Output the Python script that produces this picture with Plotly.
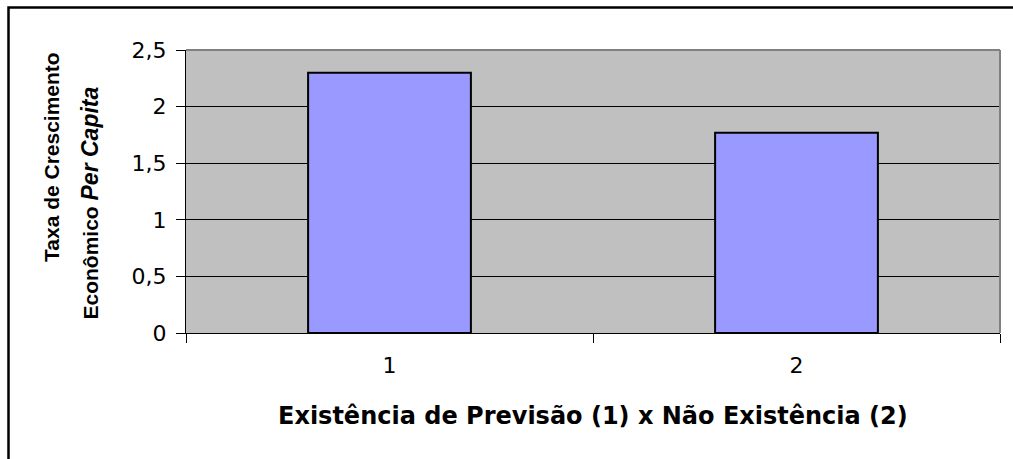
import plotly.graph_objects as go

categories = ["1", "2"]
values = [2.30, 1.77]
y_tickvals = [0, 0.5, 1, 1.5, 2, 2.5]
y_ticktext = ["0", "0,5", "1", "1,5", "2", "2,5"]
y_title_1 = "<b>Taxa de Crescimento</b>"
y_title_2 = "<b>Econômico <i><span style='font-size:23px'>Per Capita</span></i></b>"
x_title = "<b>Existência de Previsão (1) x Não Existência (2)</b>"

W, H = 1013, 459
L, R, T, B = 186, 13, 50, 126
PW, PH = W - L - R, H - T - B

def px_x(p):
    return (p - L) / PW

def px_y(p):
    return (H - B - p) / PH

FONT = "Arial, Liberation Sans, sans-serif"
WIDE = "DejaVu Sans, sans-serif"

fig = go.Figure()
fig.add_trace(go.Bar(
    x=categories, y=values,
    marker=dict(color="#9999FF", line=dict(color="black", width=2)),
    width=0.4,
))

fig.update_layout(
    width=W, height=H,
    margin=dict(l=L, r=R, t=T, b=B),
    paper_bgcolor="white",
    plot_bgcolor="#C0C0C0",
    showlegend=False,
    font=dict(family=FONT, color="black", size=20),
    xaxis=dict(
        range=[-0.5, 1.5],
        showgrid=False,
        showline=True, linecolor="black", linewidth=1,
        ticks="outside", ticklen=9, tickcolor="black",
        tickson="boundaries",
        ticklabelstandoff=13,
        tickfont=dict(size=22, family=WIDE),
    ),
    yaxis=dict(
        range=[0, 2.5],
        tickvals=y_tickvals, ticktext=y_ticktext,
        showgrid=True, gridcolor="black", gridwidth=1,
        zeroline=False,
        showline=True, linecolor="black", linewidth=1,
        ticks="outside", ticklen=9, tickcolor="black",
        ticklabelstandoff=5,
        tickfont=dict(size=22, family=WIDE),
    ),
    shapes=[
        dict(type="line", xref="paper", yref="paper", x0=0, x1=1, y0=1, y1=1,
             line=dict(color="#808080", width=2), layer="above"),
        dict(type="line", xref="paper", yref="paper", x0=1, x1=1, y0=0, y1=1,
             line=dict(color="#808080", width=2), layer="above"),
        dict(type="rect", xref="paper", yref="paper",
             x0=px_x(8.5), x1=px_x(W + 20), y0=px_y(H + 20), y1=px_y(7.5),
             line=dict(color="black", width=2.5), layer="above"),
    ],
    annotations=[
        dict(text=y_title_1, xref="paper", yref="paper",
             x=px_x(51), y=px_y(264), xanchor="center", yanchor="bottom",
             textangle=-90, showarrow=False, font=dict(size=21, family=FONT)),
        dict(text=y_title_2, xref="paper", yref="paper",
             x=px_x(89), y=px_y(322), xanchor="center", yanchor="bottom",
             textangle=-90, showarrow=False, font=dict(size=21, family=FONT)),
        dict(text=x_title, xref="paper", yref="paper",
             x=px_x(593), y=px_y(416), xanchor="center", yanchor="middle",
             showarrow=False, font=dict(size=24, family=WIDE)),
    ],
)

fig.write_html("out.html")
